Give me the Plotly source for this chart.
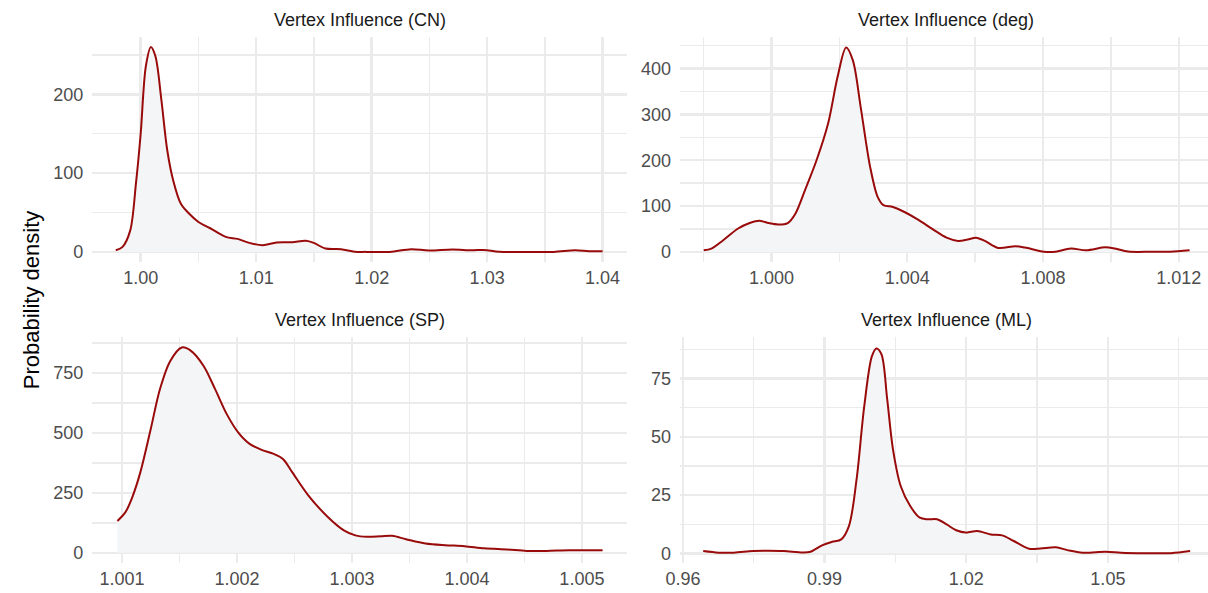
import plotly.graph_objects as go

# ---------------- data ----------------
titles = ["Vertex Influence (CN)", "Vertex Influence (deg)",
          "Vertex Influence (SP)", "Vertex Influence (ML)"]
y_title = "Probability density"

cn_x = [0.99784, 0.99841, 0.99909, 0.99959, 1.00000, 1.00044, 1.00088, 1.00128,
        1.00179, 1.00230, 1.00281, 1.00348, 1.00416, 1.00500, 1.00602, 1.00737,
        1.00839, 1.00940, 1.01058, 1.01177, 1.01312, 1.01430, 1.01498, 1.01600,
        1.01735, 1.01853, 1.01954, 1.02157, 1.02343, 1.02495, 1.02698, 1.02867,
        1.02969, 1.03104, 1.03307, 1.03577, 1.03763, 1.03882, 1.04000]
cn_y = [2, 6, 27, 87, 150, 235, 260, 248,
        193, 129, 91, 61, 49, 38, 30, 19,
        16.5, 11.4, 8.5, 12, 12.3, 14, 11.4, 4.2,
        3.4, 0.3, 0, 0, 3.4, 1.7, 3, 2.1,
        2.5, 0.2, 0, 0, 2.1, 0.8, 0.8]

deg_x = [0.998006, 0.99823, 0.99857, 0.99902, 0.99936, 0.99964, 0.99992, 1.00020,
         1.00048, 1.00071, 1.00099, 1.00133, 1.00167, 1.00195, 1.00220, 1.00240,
         1.00263, 1.00291, 1.00313, 1.00330, 1.00358, 1.00392, 1.00432, 1.00477,
         1.00516, 1.00550, 1.00578, 1.00603, 1.00629, 1.00668, 1.00719, 1.00747,
         1.00803, 1.00837, 1.00882, 1.00927, 1.00984, 1.01012, 1.01051, 1.01119,
         1.01175, 1.01232]
deg_y = [3.6, 7.3, 25, 51, 63, 68, 63, 60,
         63, 84, 135, 200, 280, 382, 446, 418,
         316, 185, 120, 102, 98, 87, 70.5, 48.7,
         31, 24, 27, 31, 24, 8.7, 12.4, 9.5,
         0.5, 0.5, 7.3, 3.6, 10, 7.3, 0.7, 0.2,
         0.3, 3.6]

sp_x = [1.00096, 1.00103, 1.00109, 1.00116, 1.00125, 1.00133, 1.00142, 1.00152,
        1.00160, 1.00171, 1.00181, 1.00191, 1.00201, 1.00211, 1.00221, 1.00232,
        1.00240, 1.00248, 1.00262, 1.00279, 1.00293, 1.00303, 1.00313, 1.00325,
        1.00335, 1.00347, 1.00364, 1.00381, 1.00398, 1.00415, 1.00435, 1.00452,
        1.00469, 1.00489, 1.00518]
sp_y = [133, 170, 233, 337, 517, 683, 801, 857,
        843, 780, 683, 580, 503, 455, 431, 413,
        392, 337, 240, 150, 94, 73, 67, 69,
        71, 57, 39, 32, 28, 19, 14, 8.3,
        8.3, 11, 11]

ml_x = [0.96430, 0.96755, 0.97080, 0.97486, 0.97810, 0.98135, 0.98541, 0.98704,
        0.98947, 0.99150, 0.99353, 0.99516, 0.99678, 0.99840, 1.00003, 1.00100,
        1.00206, 1.00327, 1.00449, 1.00612, 1.00814, 1.01017, 1.01180, 1.01383,
        1.01586, 1.01789, 1.01992, 1.02235, 1.02520, 1.02763, 1.03007, 1.03331,
        1.03575, 1.03899, 1.04143, 1.04468, 1.04955, 1.05280, 1.05767, 1.06336,
        1.06742]
ml_y = [1, 0.3, 0.3, 1, 1.1, 1, 0.4, 0.7,
        3.4, 4.9, 6, 11.7, 31.7, 63, 84.6, 87.9,
        85.3, 66, 44.6, 28.9, 20.3, 15.3, 14.6, 14.6,
        12.4, 9.9, 8.9, 9.6, 8.1, 7.7, 5.3, 2,
        2.1, 2.6, 1.4, 0.3, 0.7, 0.3, 0.1, 0.1,
        1]

# ---------------- layout / style ----------------
W, H = 1208, 593
LINE = "#990b0b"
FILL = "#f4f5f7"
GRID = "#ebebeb"
FONT = "Liberation Sans, Arial, sans-serif"
TICK_FONT = dict(family=FONT, size=18, color="#4d4d4d")

def fx(p):
    return p / W

def fy(p):
    return 1 - p / H

# pixel boxes of the four panels: (left, right, top, bottom)
boxes = [(78.3, 620, 37, 262.6), (673.3, 1208, 37, 262.6),
         (78.3, 620, 338, 564), (673.3, 1208, 338, 564)]
xranges = [[0.995812, 1.042137], [0.997305, 1.012863],
           [1.000742, 1.005395], [0.959373, 1.071204]]
yranges = [[-13.05, 272.9], [-22.4, 469.0], [-42.5, 899.0], [-4.15, 92.6]]
xticks = [(1.00, 0.01, ".2f"), (1.000, 0.004, ".3f"),
          (1.001, 0.001, ".3f"), (0.96, 0.03, ".2f")]
yticks = [100, 100, 250, 25]

series = [(cn_x, cn_y), (deg_x, deg_y), (sp_x, sp_y), (ml_x, ml_y)]

fig = go.Figure()
annotations = []
for i, ((xs, ys), box) in enumerate(zip(series, boxes)):
    n = "" if i == 0 else str(i + 1)
    fig.add_trace(go.Scatter(
        x=xs, y=ys, mode="lines",
        line=dict(color=LINE, width=2, shape="spline", smoothing=0.9),
        fill="tozeroy", fillcolor=FILL,
        xaxis="x" + n, yaxis="y" + n, showlegend=False, hoverinfo="skip"))
    l, r, t, b = box
    t0, dt, fmt = xticks[i]
    fig.layout["xaxis" + n] = dict(
        domain=[fx(l), fx(r)], anchor="y" + n, range=xranges[i],
        tick0=t0, dtick=dt, tickformat=fmt, tickfont=TICK_FONT,
        showgrid=True, gridcolor=GRID, gridwidth=2.4,
        minor=dict(dtick=dt / 2, tick0=t0, showgrid=True, gridcolor=GRID, gridwidth=1.4),
        zeroline=False, showline=False, ticks="", ticklen=0, ticklabelstandoff=3,
        ticklabeloverflow="allow")
    fig.layout["yaxis" + n] = dict(
        domain=[fy(b), fy(t)], anchor="x" + n, range=yranges[i],
        tick0=0, dtick=yticks[i], tickfont=TICK_FONT,
        showgrid=True, gridcolor=GRID, gridwidth=2.4,
        minor=dict(dtick=yticks[i] / 2, tick0=0, showgrid=True, gridcolor=GRID, gridwidth=1.4),
        zeroline=False, showline=False, ticks="", ticklen=0, ticklabelstandoff=8)
    annotations.append(dict(
        text=titles[i], xref="paper", yref="paper",
        x=fx((l + (r if i % 2 == 0 else 1213)) / 2), y=fy(20 if i < 2 else 321),
        xanchor="center", yanchor="middle", showarrow=False,
        font=dict(family=FONT, size=18, color="#1a1a1a")))

annotations.append(dict(
    text=y_title, xref="paper", yref="paper", x=fx(17), y=fy(300),
    xanchor="center", yanchor="middle", textangle=-90, showarrow=False,
    font=dict(family=FONT, size=22, color="#000000")))

fig.update_layout(
    width=W, height=H, margin=dict(l=0, r=0, t=0, b=0),
    paper_bgcolor="white", plot_bgcolor="white",
    annotations=annotations, showlegend=False)

fig.write_html("out.html", config={"displayModeBar": False, "staticPlot": True})

# remove the browser's default 8px body margin so the figure sits at (0, 0)
with open("out.html", "r", encoding="utf-8") as f:
    html = f.read()
html = html.replace("<head>", "<head><style>html,body{margin:0;padding:0;overflow:hidden;}</style>", 1)
with open("out.html", "w", encoding="utf-8") as f:
    f.write(html)
